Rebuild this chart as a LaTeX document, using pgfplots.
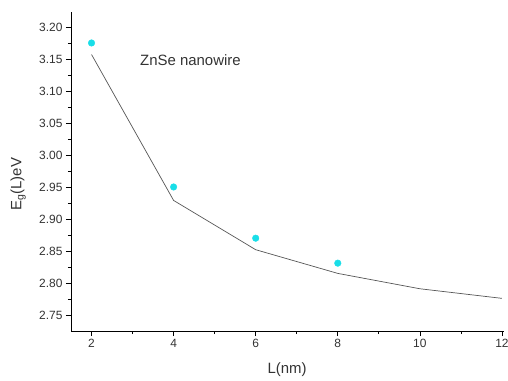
\documentclass[border=0pt]{standalone}
\usepackage{pgfplots}
\pgfplotsset{compat=1.18}
\usepackage{fontspec}
\setmainfont{Liberation Sans}
\definecolor{dotc}{RGB}{25,222,232}
\definecolor{linec}{RGB}{85,85,85}
\begin{document}
\begin{tikzpicture}
\begin{axis}[
  scale only axis,
  width=433bp, height=319bp,
  xmin=1.5, xmax=12.05,
  ymin=2.725, ymax=3.2234,
  axis x line*=bottom, axis y line*=left,
  axis line style={line width=0.8pt, -},
  xtick={2,4,6,8,10,12},
  minor xtick={3,5,7,9,11},
  ytick={2.75,2.80,...,3.21},
  minor ytick={2.775,2.825,...,3.23},
  tick align=outside,
  major tick length=5bp, minor tick length=3bp,
  every tick/.style={black, line width=0.7pt},
  /pgf/number format/assume math mode=true,
  /pgf/number format/.cd, fixed, fixed zerofill, precision=2, /pgfplots/.cd,
  xticklabel style={/pgf/number format/precision=0, /pgf/number format/fixed zerofill=false, font=\fontsize{12}{14}\selectfont, text=black!80},
  yticklabel style={font=\fontsize{12}{14}\selectfont, text=black!80},
  xlabel={L(nm)},
  ylabel={E\textsubscript{g}(L)eV},
  xlabel style={font=\fontsize{15}{18}\selectfont, text=black!80, at={(axis description cs:0.499,-0.122)}, anchor=center},
  ylabel style={font=\fontsize{15}{18}\selectfont, text=black!80, at={(axis description cs:-0.122,0.46)}, anchor=center},
  clip=false,
]
\addplot[linec, line width=0.7pt, mark=none] coordinates {
  (2,3.157) (4,2.929) (6,2.852) (8,2.815) (10,2.791) (12,2.776)
};
\addplot[only marks, mark=*, mark size=3.3bp, dotc, mark options={draw=dotc, fill=dotc}] coordinates {
  (2,3.175) (4,2.950) (6,2.870) (8,2.831)
};
\node[anchor=west, font=\fontsize{15}{18}\selectfont, text=black!80] at (axis cs:3.1,3.148) {ZnSe nanowire};
\end{axis}
\pgfresetboundingbox
\path ([shift={(-71bp,-50bp)}]current axis.south west) rectangle ([shift={(4bp,12bp)}]current axis.north east);
\end{tikzpicture}
\end{document}
